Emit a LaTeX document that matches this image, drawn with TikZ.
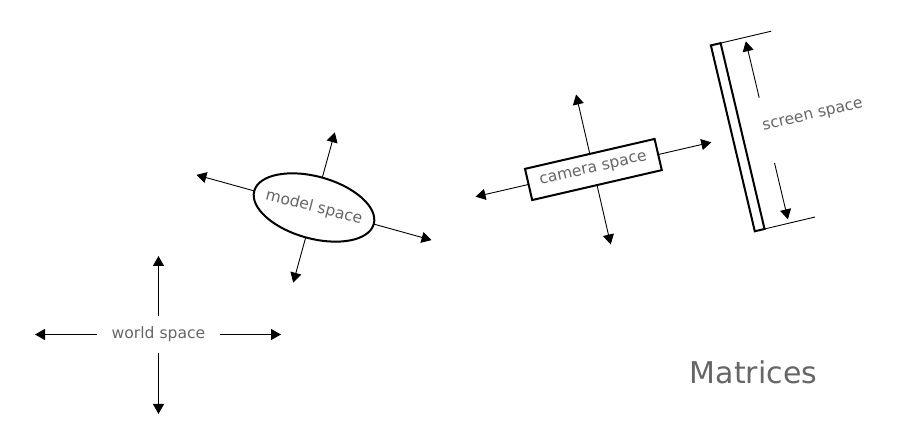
\documentclass[tikz,border=0pt]{standalone}
\usepackage{fontspec}
\setmainfont{DejaVu Sans}
\usetikzlibrary{arrows.meta,shapes.geometric}
\definecolor{labelgray}{HTML}{666666}
\begin{document}
\begin{tikzpicture}[x=1pt,y=-1pt,
  axis/.style={line width=0.9pt,-{Triangle[length=10pt,width=11pt]}},
  thinline/.style={line width=0.9pt},
  spacelabel/.style={text=labelgray,font=\fontsize{15.6}{18}\selectfont},
  boxframe/.style={draw,line width=2pt,fill=white,inner sep=0pt,outer sep=0pt},
]
\useasboundingbox (0,0) rectangle (900,443);

% world space: label with four axes
\node[spacelabel,inner sep=0pt,minimum width=123pt,minimum height=36pt] (world) at (158.5,334.5) {world space};
\coordinate (wL) at (35,334.5);
\coordinate (wR) at (281,334.5);
\coordinate (wU) at (158.5,256);
\coordinate (wD) at (158.5,414);
\draw[axis] (world.west) -- (wL);
\draw[axis] (world.east) -- (wR);
\draw[axis] (world.north) -- (wU);
\draw[axis] (world.south) -- (wD);

% model space: tilted ellipse with its axes
\coordinate (mR) at (431.6,240.1);
\coordinate (mL) at (196.4,174.9);
\coordinate (mU) at (334.8,132.3);
\coordinate (mD) at (293.2,282.7);
\node[boxframe,ellipse,minimum width=124pt,minimum height=62pt,rotate=-15.5] (model) at (314,207.5) {};
\node[spacelabel,rotate=-14.5] (modellabel) at (model.center) {model space};
\draw[axis] (model.east) -- (mR);
\draw[axis] (model.west) -- (mL);
\draw[axis] (model.north) -- (mU);
\draw[axis] (model.south) -- (mD);

% camera space: tilted box with its axes
\coordinate (cR) at (711.3,142.3);
\coordinate (cL) at (475.5,196.7);
\coordinate (cU) at (576.1,94.5);
\coordinate (cD) at (610.7,244.5);
\node[spacelabel,boxframe,minimum width=133pt,minimum height=32pt,rotate=13] (camera) at (593.4,169.5) {camera space};
\draw[axis] (camera.east) -- (cR);
\draw[axis] (camera.west) -- (cL);
\draw[axis] (camera.north) -- (cU);
\draw[axis] (camera.south) -- (cD);

% screen plane with its extent marked
\node[boxframe,minimum width=10pt,minimum height=191pt,rotate=13.3] (screen) at (737.7,137.2) {};
\coordinate (sTop) at (771.2,31.2);
\coordinate (sBot) at (815.1,217.0);
\draw[thinline] (screen.north east) -- (sTop);
\draw[thinline] (screen.south east) -- (sBot);
\coordinate (dTs) at (759.2,97.7);
\coordinate (dTe) at (745.8,41.3);
\coordinate (dBs) at (774.5,162.9);
\coordinate (dBe) at (787.9,219.3);
\draw[axis] (dTs) -- (dTe);
\draw[axis] (dBs) -- (dBe);
\node[spacelabel,rotate=13.3] (screenlabel) at (813,116) {screen space};

% title
\node[text=labelgray,font=\fontsize{30}{34}\selectfont,inner sep=0pt] (title) at (753.5,372) {Matrices};
\end{tikzpicture}
\end{document}
